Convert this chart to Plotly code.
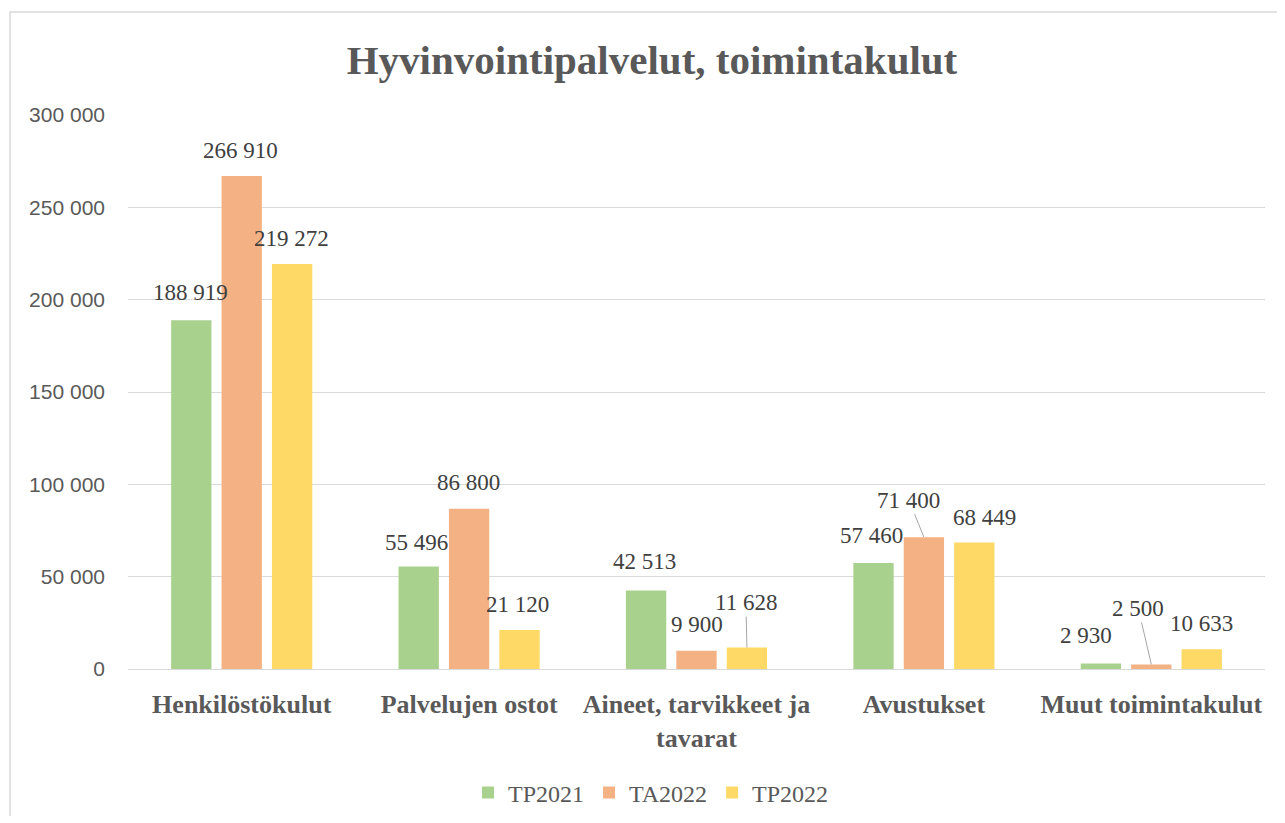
import plotly.graph_objects as go

categories = ["Henkilöstökulut", "Palvelujen ostot", "Aineet, tarvikkeet ja<br>tavarat",
              "Avustukset", "Muut toimintakulut"]
series_names = ["TP2021", "TA2022", "TP2022"]
tp2021 = [188919, 55496, 42513, 57460, 2930]
ta2022 = [266910, 86800, 9900, 71400, 2500]
tp2022 = [219272, 21120, 11628, 68449, 10633]
y_ticks = [0, 50000, 100000, 150000, 200000, 250000, 300000]

series_values = [tp2021, ta2022, tp2022]
colors = ["#A9D18E", "#F4B183", "#FFD966"]

# label placement styling (pixel offsets from bar top; leader=True draws a line)
label_style = [
    [(-1, -28, False), (-2, -24, False), (-2, -29, False), (-2, -27, False), (-15, -28, False)],
    [(-1, -26, False), (-1, -26, False), (0, -26, False), (-15, -37, True), (-13, -56, True)],
    [(-1, -26, False), (-2, -26, False), (-1, -45, True), (10, -25, False), (0, -26, False)],
]

# page body has an 8px margin; the figure is laid out in its own coordinates
PAD = 8
W, H = 1270, 808
ml, mt = 128 - PAD, 115 - PAD
plot_w, plot_h = 1137, 554
mr = W - ml - plot_w
mb = H - mt - plot_h
bargap = 0.335
bargroupgap = 0.2
slot_px = plot_w / len(categories) * (1 - bargap) / len(series_names)

fig = go.Figure()
for name, vals, col in zip(series_names, series_values, colors):
    fig.add_trace(go.Bar(name=name, x=categories, y=vals, marker=dict(color=col, line=dict(width=0)),
                         hoverinfo="skip"))

def fmt(v):
    return f"{v:,}".replace(",", " ")

label_font = dict(family="Liberation Serif", size=23, color="#404040")
annotations = []
for i, vals in enumerate(series_values):
    for j, v in enumerate(vals):
        dx, dy, leader = label_style[i][j]
        base_shift = (i - 1) * slot_px
        if leader:
            annotations.append(dict(
                x=categories[j], y=v, xref="x", yref="y", text=fmt(v),
                showarrow=True, arrowhead=0, arrowwidth=1, arrowcolor="#A6A6A6",
                ax=dx, ay=dy, xshift=base_shift, standoff=0, font=label_font))
        else:
            annotations.append(dict(
                x=categories[j], y=v, xref="x", yref="y", text=fmt(v),
                showarrow=False, xshift=base_shift + dx, yshift=-dy,
                xanchor="center", yanchor="middle", font=label_font))

fig.update_layout(
    width=W, height=H,
    margin=dict(l=ml, r=mr, t=mt, b=mb, autoexpand=False),
    paper_bgcolor="white", plot_bgcolor="white",
    separators=", ",
    barmode="group", bargap=bargap, bargroupgap=bargroupgap,
    title=dict(text="<b>Hyvinvointipalvelut, toimintakulut</b>", x=(652 - PAD) / W, xref="container",
               y=1 - (60 - PAD) / H, yref="container", xanchor="center", yanchor="middle",
               font=dict(family="Liberation Serif", size=41, color="#595959")),
    xaxis=dict(showgrid=False, showline=True, linecolor="#D9D9D9", linewidth=1.3,
               ticks="", ticklabelstandoff=12, automargin=False,
               tickfont=dict(family="Liberation Serif", size=26, color="#595959", weight="bold")),
    yaxis=dict(range=[0, 300000], tickvals=y_ticks, tickformat=",d", automargin=False,
               showgrid=True, gridcolor="#D9D9D9", gridwidth=1.3, zeroline=False,
               showline=False, ticks="", ticklabelstandoff=22,
               tickfont=dict(family="Liberation Sans", size=21, color="#595959")),
    legend=dict(orientation="h", x=0.46, xanchor="center", y=(669 - 793) / plot_h,
                yanchor="middle", font=dict(family="Liberation Serif", size=24, color="#595959"),
                itemclick=False, itemdoubleclick=False),
    annotations=annotations,
    showlegend=True,
    hovermode=False,
)

# chart frame
fig.add_shape(type="rect", xref="paper", yref="paper",
              x0=(10 - 128) / plot_w, x1=1.1, y0=-0.6, y1=(669 - 12) / plot_h,
              line=dict(color="#D9D9D9", width=1.5), fillcolor="rgba(0,0,0,0)", layer="below")

fig.write_html("out.html", config={"displayModeBar": False})
